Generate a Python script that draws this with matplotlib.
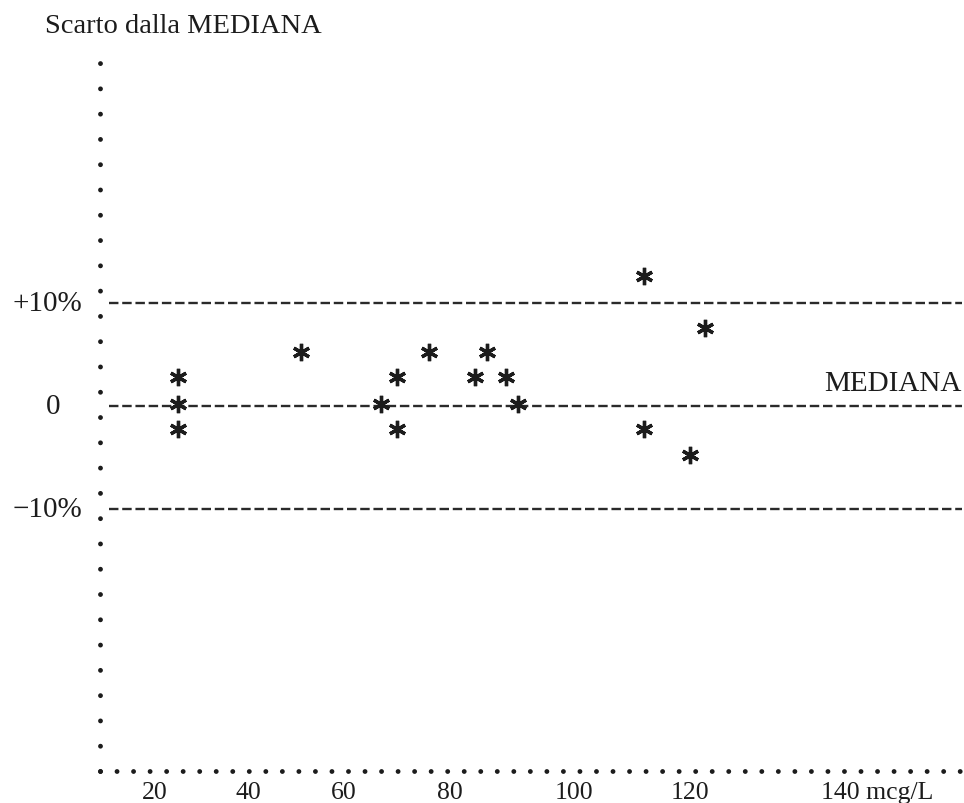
import numpy as np
import matplotlib
matplotlib.use("Agg")
import matplotlib.pyplot as plt
from matplotlib.transforms import ScaledTranslation

# --- data: concentration (mcg/L) and deviation from the median (%) ---
conc = [25, 25, 25, 51, 67, 70, 70, 76, 84, 86, 89, 91, 112, 112, 120, 122]
scarto = [2.8, 0.2, -2.2, 5.2, 0.2, 2.8, -2.2, 5.2, 2.8, 5.2, 2.8, 0.2, 12.6, -2.2, -4.8, 7.6]

x_ticks = [20, 40, 60, 80, 100, 120, 140]
x_tick_labels = ["20", "40", "60", "80", "100", "120", "140 mcg/L"]
limits = [10, 0, -10]
limit_labels = ["+10%", "0", "\u221210%"]

# hand-spaced abscissa: position of each tick along the axis
scale_vals = [0, 20, 40, 60, 80, 100, 120, 140, 160]
scale_pos = [62, 155, 248, 344, 450, 574, 690, 843, 996]


def fwd(v):
    return np.interp(v, scale_vals, scale_pos)


def inv(p):
    return np.interp(p, scale_pos, scale_vals)


plt.rcParams["font.family"] = ["Liberation Serif", "DejaVu Serif"]
INK = "#1c1c1c"

W, H = 964, 804
fig = plt.figure(figsize=(W / 100, H / 100), dpi=100)
left, right, top, bottom = 100, 962, 56, 772
ax = fig.add_axes([left / W, (H - bottom) / H, (right - left) / W, (bottom - top) / H])
ax.set_xscale("function", functions=(fwd, inv))
ax.set_xlim(inv(left), inv(right))
ax.set_ylim(-(bottom - 407) / 10.3, (407 - top) / 10.3)

# dotted axes
for side in ("top", "right"):
    ax.spines[side].set_visible(False)
for side, gap in (("left", 5.2), ("bottom", 3.4)):
    sp = ax.spines[side]
    sp.set_linewidth(3.5)
    sp.set_color(INK)
    sp.set_linestyle((0, (0.001, gap)))
    sp.set_capstyle("round")

# reference lines: median and +/-10%
for lv in limits:
    ax.axhline(lv, xmin=0.01, xmax=1.0, color="#2a2a2a", lw=1.7,
               dashes=(4.0, 1.6), zorder=2)

# measurements
ax.plot(conc, scarto, linestyle="none", marker=(6, 2, 0), ms=12.5, mew=2.4,
        color=INK, zorder=3)

# x ticks
ax.set_xticks(x_ticks)
ax.set_xticklabels(x_tick_labels, fontsize=18.5, color=INK)
ax.tick_params(axis="x", length=0, pad=7.5)
last = ax.get_xticklabels()[-1]
last.set_horizontalalignment("left")
last.set_transform(last.get_transform() + ScaledTranslation(-0.22, 0, fig.dpi_scale_trans))
ax.set_yticks([])

# y labels
ytr = ax.get_yaxis_transform()
for lv, lab in zip(limits, limit_labels):
    if lab == "0":
        ax.text((53 - left) / (right - left), lv, lab, transform=ytr, ha="center",
                va="center", fontsize=21, color=INK)
    else:
        ax.text((82 - left) / (right - left), lv, lab, transform=ytr, ha="right",
                va="center", fontsize=21, color=INK)

ax.text(1.0, 2.2, "MEDIANA", transform=ytr, ha="right", va="center",
        fontsize=21, color=INK)
fig.text(45 / W, 1 - 33 / H, "Scarto dalla MEDIANA", ha="left", va="baseline",
         fontsize=20.5, color=INK)

fig.savefig("out.png", dpi=100, facecolor="white")
